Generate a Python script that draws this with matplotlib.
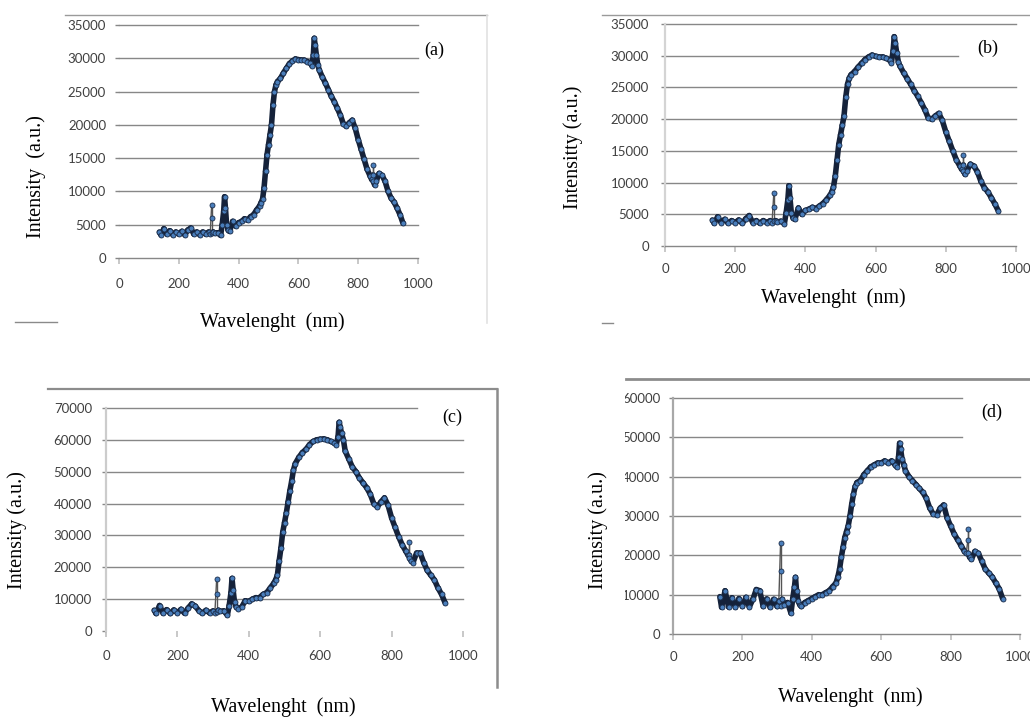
import matplotlib
matplotlib.use("Agg")
import matplotlib.pyplot as plt
from matplotlib.collections import LineCollection
from matplotlib.lines import Line2D
from matplotlib.patches import Rectangle

FW, FH = 1030, 717

# wavelength samples (nm), shared by all four spectra; repeated x = vertical spike
wavelength = [135, 140, 150, 160, 170, 180, 190, 200, 210, 220, 230, 240, 250, 260, 270,
              280, 290, 300, 305, 310, 310, 310, 315, 320, 330, 340, 345, 350, 353, 356,
              360, 365, 370, 380, 390, 400, 410, 420, 430, 440, 450, 460, 470, 475, 480,
              485, 490, 495, 500, 505, 510, 515, 520, 525, 530, 540, 550, 560, 570, 580,
              590, 600, 610, 620, 630, 640, 645, 650, 653, 656, 660, 665, 670, 680, 690,
              700, 710, 720, 730, 740, 750, 760, 770, 780, 790, 800, 810, 820, 830, 840,
              845, 850, 850, 850, 855, 860, 870, 880, 890, 900, 910, 920, 930, 940, 950]

intensity_a = [3900, 3500, 4400, 3600, 4100, 3500, 3900, 3600, 4000, 3500, 4200, 4500, 3600, 3900, 3500,
               3900, 3600, 3900, 3600, 8000, 6000, 3800, 3900, 3700, 3800, 3400, 5000, 7000, 9200, 7500,
               5000, 4200, 4000, 5500, 4800, 5300, 5500, 5900, 5700, 6200, 6500, 7200, 7800, 8300, 8800,
               10500, 13000, 15500, 17000, 18500, 20000, 23000, 25000, 26000, 26500, 27000, 27800, 28500, 29200, 29600,
               29900, 29800, 29700, 29700, 29500, 29300, 28900, 30500, 33000, 32000, 30500, 29000, 28200, 27200, 26300,
               25300, 24300, 23500, 22500, 21500, 20200, 19800, 20300, 20700, 19500, 17800, 16300, 14800, 13300, 12300,
               11800, 12500, 14000, 11500, 11000, 11500, 12700, 12400, 11500, 10000, 9000, 8400, 7500, 6500, 5200]

intensity_b = [4100, 3600, 4600, 3700, 4200, 3600, 4000, 3700, 4100, 3600, 4300, 4800, 3700, 4000, 3600,
               4000, 3700, 4000, 3700, 8300, 6200, 3900, 4000, 3800, 3900, 3500, 5200, 7300, 9500, 7600,
               5200, 4400, 4200, 6000, 5000, 5600, 5800, 6100, 5900, 6300, 6700, 7300, 8000, 8500, 9300,
               11000, 13500, 16000, 17500, 19000, 20500, 23500, 25500, 26500, 27000, 27500, 28200, 28800, 29400, 29800,
               30100, 29900, 29800, 29800, 29600, 29300, 28900, 30800, 33000, 32000, 30500, 29000, 28300, 27300, 26400,
               25500, 24500, 23600, 22600, 21500, 20200, 20000, 20500, 20900, 19800, 18000, 16500, 15000, 13600, 12600,
               12100, 12800, 14400, 11800, 11300, 11800, 12900, 12600, 11700, 10200, 9200, 8500, 7600, 6600, 5500]

intensity_c = [6500, 5500, 8000, 5600, 6700, 5500, 6600, 5700, 6800, 5600, 7200, 8500, 7800, 6400, 5600,
               6500, 5700, 6300, 5800, 16300, 11500, 6000, 6500, 6200, 6300, 5000, 8000, 12000, 16500, 13000,
               9000, 7500, 7000, 7500, 9500, 9300, 10000, 10500, 10500, 11500, 12000, 13500, 15000, 16000, 17500,
               22000, 26000, 31000, 34000, 37000, 40500, 44000, 47000, 50500, 52500, 54500, 56000, 57000, 58500, 59500,
               60000, 60200, 60300, 60000, 59500, 59000, 58500, 61000, 65500, 64000, 62000, 60000, 56500, 54000, 51500,
               50000, 48000, 46500, 45000, 43000, 40000, 39000, 40500, 41800, 39500, 35500, 32500, 29500, 27000, 25000,
               24000, 24000, 28000, 23000, 22000, 21500, 24500, 24500, 21500, 19000, 17500, 16000, 13500, 11500, 8800]

intensity_d = [9500, 6800, 11000, 6900, 9200, 6800, 9000, 7000, 9300, 6900, 8800, 11300, 11000, 7000, 8900,
               6800, 8800, 7000, 8500, 23100, 15900, 7200, 8800, 7500, 8000, 5300, 9000, 12000, 14400, 11000,
               8500, 7500, 7000, 8000, 8500, 9000, 9500, 10000, 10000, 10500, 11000, 12000, 13000, 14500, 16500,
               19500, 22000, 24500, 26000, 27500, 30000, 33000, 35500, 37500, 38500, 39000, 40500, 41500, 42500, 43000,
               43500, 43500, 44000, 43500, 44000, 43000, 42500, 45000, 48500, 47000, 44500, 43000, 41500, 40000, 39000,
               38000, 37000, 36000, 34500, 32000, 30500, 30300, 32000, 32800, 29500, 27500, 25500, 24000, 22500, 21000,
               20500, 24000, 26600, 20500, 19500, 19000, 21000, 20500, 18500, 16500, 15500, 14500, 13000, 11500, 9000]

x_ticks = [0, 200, 400, 600, 800, 1000]
y_ticks_ab = [0, 5000, 10000, 15000, 20000, 25000, 30000, 35000]
y_ticks_c = [0, 10000, 20000, 30000, 40000, 50000, 60000, 70000]
y_ticks_d = [0, 10000, 20000, 30000, 40000, 50000, 60000]

panels = [
    dict(y=intensity_a, yt=y_ticks_ab, tag="(a)", ylab="Intensity  (a.u.)",
         box=(119, 418, 25, 258), short={}, left_spine=None, bottom=True, ypad=6.3, xpad=10.7,
         letter=(434, 50), ylab_xy=(36, 177), xlab_xy=(272, 322)),
    dict(y=intensity_b, yt=y_ticks_ab, tag="(b)", ylab="Intensitty (a.u.)",
         box=(665, 1016, 24, 246), short={30000: 958}, left_spine="#d4d4d4", bottom=True, ypad=8.5, xpad=8.5,
         letter=(988, 48), ylab_xy=(573, 147), xlab_xy=(833, 298)),
    dict(y=intensity_c, yt=y_ticks_c, tag="(c)", ylab="Intensity (a.u.)",
         box=(106, 463, 408, 631), short={70000: 417}, left_spine="#cccccc", bottom=False, ypad=7.1, xpad=10.0,
         letter=(452, 417), ylab_xy=(17, 530), xlab_xy=(283, 707)),
    dict(y=intensity_d, yt=y_ticks_d, tag="(d)", ylab="Intensity (a.u.)",
         box=(673, 1020, 398, 634), short={60000: 962, 50000: 962}, left_spine="#a8a8a8", bottom=True, ypad=6.3,
         xpad=8.5, letter=(992, 412), ylab_xy=(598, 530), xlab_xy=(850, 697)),
]

GRID = "#878787"
LINE = "#15223a"
TICKFONT = dict(family=["Lato", "DejaVu Sans"], size=9.5)
SERIF = ["Liberation Serif", "DejaVu Serif"]

fig = plt.figure(figsize=(FW / 100, FH / 100), dpi=100)
fig.patch.set_facecolor("white")


def fx(px):
    return px / FW


def fy(py):
    return 1 - py / FH


for p in panels:
    x0, x1, yt, y0 = p["box"]
    ax = fig.add_axes([fx(x0), fy(y0), (x1 - x0) / FW, (y0 - yt) / FH])
    ax.set_xlim(0, 1000)
    ax.set_ylim(0, p["yt"][-1])
    ax.set_xticks(x_ticks)
    ax.set_yticks(p["yt"])
    ax.set_xticklabels([str(v) for v in x_ticks], fontdict=TICKFONT, color="#404040")
    ax.set_yticklabels([str(v) for v in p["yt"]], fontdict=TICKFONT, color="#404040")
    ax.tick_params(axis="x", direction="out", length=4, width=1.3, color="#c4c4c4", pad=p["xpad"])
    ax.tick_params(axis="y", direction="out", length=3, width=1.0, color=GRID, pad=p["ypad"])

    for v in p["yt"][1:]:
        right = p["short"].get(v, x1)
        ax.axhline(v, xmin=0, xmax=(right - x0) / (x1 - x0), color=GRID, lw=1.0, zorder=1, clip_on=False)

    for s in ("top", "right"):
        ax.spines[s].set_visible(False)
    if p["left_spine"]:
        ax.spines["left"].set_color(p["left_spine"])
        ax.spines["left"].set_linewidth(1.6)
    else:
        ax.spines["left"].set_visible(False)
    if p["bottom"]:
        ax.spines["bottom"].set_color(GRID)
        ax.spines["bottom"].set_linewidth(1.0)
    else:
        ax.spines["bottom"].set_visible(False)

    # thick dense band for the spectrum, thin stems where the detector spikes
    ys = p["y"]
    segs = [[(wavelength[i], ys[i]), (wavelength[i + 1], ys[i + 1])] for i in range(len(ys) - 1)]
    widths = [1.0 if wavelength[i] == wavelength[i + 1] or wavelength[i + 1] == wavelength[min(i + 2, len(ys) - 1)]
              and ys[i + 1] > ys[i] + 2500 else 4.0 for i in range(len(ys) - 1)]
    colors = ["#555555" if w < 2 else LINE for w in widths]
    ax.add_collection(LineCollection(segs, linewidths=widths, colors=colors, zorder=3, capstyle="round"))
    ax.plot(wavelength, ys, ls="none", marker="o", ms=3.6, mfc="#4a7ebb", mec="#1b2d4a", mew=0.6,
            zorder=4, clip_on=False)

    fig.text(fx(p["letter"][0]), fy(p["letter"][1]), p["tag"], family=SERIF, size=13,
             ha="center", va="center")
    fig.text(fx(p["ylab_xy"][0]), fy(p["ylab_xy"][1]), p["ylab"], family=SERIF, size=14.5,
             rotation=90, ha="center", va="center")
    fig.text(fx(p["xlab_xy"][0]), fy(p["xlab_xy"][1]), "Wavelenght  (nm)", family=SERIF, size=14.5,
             ha="center", va="center")


def frame_line(xs, ys, color="#9a9a9a", lw=1.0):
    fig.add_artist(Line2D([fx(v) for v in xs], [fy(v) for v in ys], color=color, lw=lw))


# scan frame remnants around the panels
frame_line([65, 487], [15, 15])
frame_line([487, 487], [15, 323], color="#e2e2e2", lw=1.2)
frame_line([15, 57], [322, 322], color="#8a8a8a")
frame_line([602, 1030], [15, 15])
frame_line([602, 613], [323, 323], color="#8a8a8a")
frame_line([48, 497], [389, 389], color="#8c8c8c", lw=1.6)
frame_line([497, 497], [389, 687], color="#8c8c8c", lw=1.8)
frame_line([626, 1030], [379, 379], color="#8c8c8c", lw=2.0)

# left edge of panel (d) labels is cut off in the scan
fig.add_artist(Rectangle((fx(610), fy(645)), (625 - 610) / FW, (645 - 385) / FH,
                         transform=fig.transFigure, facecolor="white", edgecolor="none", zorder=10))

fig.savefig("out.png", dpi=100, facecolor="white")
